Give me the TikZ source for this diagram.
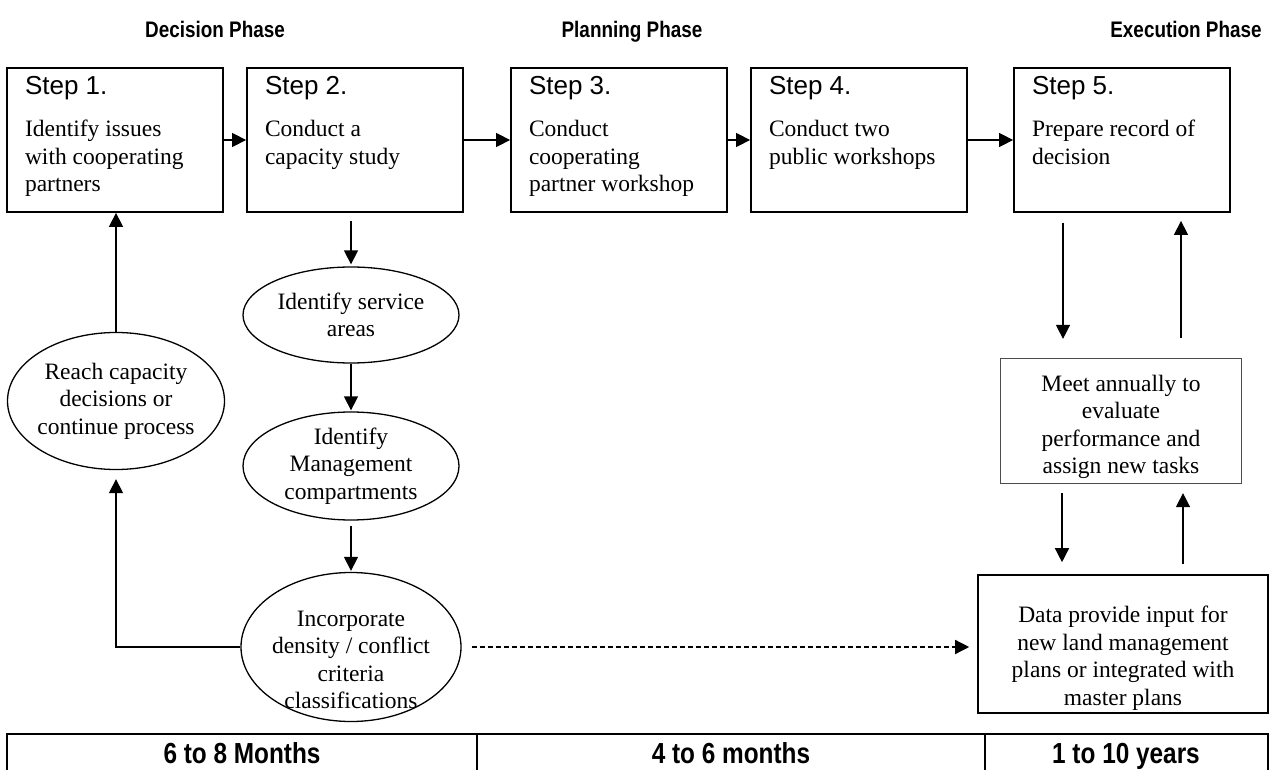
\documentclass[tikz,border=0pt]{standalone}
\usepackage{fontspec}
\setmainfont{Liberation Serif}
\newfontfamily\stepfont{Liberation Sans}
\newfontfamily\narrowfont[FakeStretch=0.84]{Liberation Sans}
\usetikzlibrary{positioning, shapes.geometric, arrows.meta}

\newcommand{\bodysize}{\fontsize{23.5}{27.5}\selectfont}
\newcommand{\stepbody}[2]{\parbox[c][128pt][t]{180pt}{\raggedright
  {\stepfont\fontsize{26}{30}\selectfont Step #1.\par}\vspace{15pt}
  \bodysize #2}}

\begin{document}
\begin{tikzpicture}[x=1pt, y=-1pt,
    stepbox/.style = {draw, line width=1.8pt, minimum width=216pt, minimum height=144pt, inner sep=8pt},
    oval/.style = {draw, ellipse, line width=1.3pt, inner sep=0pt},
    ovaltext/.style = {align=center, inner sep=0pt, font=\bodysize},
    notebox/.style = {draw, line width=1.6pt, inner sep=0pt},
    phase/.style = {anchor=base, inner sep=0pt, font=\narrowfont\bfseries\fontsize{22.5}{26}\selectfont},
    span/.style = {anchor=base, inner sep=0pt, font=\narrowfont\bfseries\fontsize{29}{32}\selectfont},
    arr/.style = {line width=1.4pt, -{Triangle[length=14pt, width=14pt]}}
  ]
  \useasboundingbox (0,0) rectangle (1272,770);
  % phase titles
  \node[phase] (decision) at (215,38) {Decision Phase};
  \node[phase] (planning) at (632,38) {Planning Phase};
  \node[phase] (execution) at (1186,38) {Execution Phase};
  % the five steps
  \node[stepbox] (s1) at (115,140) {\stepbody{1}{Identify issues\\with cooperating\\partners}};
  \node[stepbox] (s2) at (355,140) {\stepbody{2}{Conduct a\\capacity study}};
  \node[stepbox] (s3) at (619,140) {\stepbody{3}{Conduct\\cooperating\\partner workshop}};
  \node[stepbox] (s4) at (859,140) {\stepbody{4}{Conduct two\\public workshops}};
  \node[stepbox] (s5) at (1122,140) {\stepbody{5}{Prepare record of\\decision}};
  \foreach \a/\b in {s1/s2, s2/s3, s3/s4, s4/s5}
    { \draw[arr] (\a) -- (\b); }
  % decision phase loop
  \node[oval, minimum width=216pt, minimum height=96pt] (svc) at (351,315) {};
  \node[ovaltext] (svct) at (svc) {Identify service\\areas};
  \node[oval, minimum width=216pt, minimum height=108pt] (mgmt) at (351,466) {};
  \node[ovaltext] (mgmtt) at (mgmt) {Identify\\Management\\compartments};
  \node[oval, minimum width=220pt, minimum height=149pt] (inc) at (351,647) {};
  \node[ovaltext, yshift=-13pt] (inct) at (inc) {Incorporate\\density / conflict\\criteria\\classifications};
  \node[oval, minimum width=217pt, minimum height=137pt] (reach) at (116,401) {};
  \node[ovaltext] (reacht) at (reach) {Reach capacity\\decisions or\\continue process};
  \draw[arr, shorten <=8pt, shorten >=2pt] (svc.north |- s2.south) -- (svc.north);
  \draw[arr, shorten >=1pt] (svc) -- (mgmt);
  \draw[arr, shorten <=5pt, shorten >=1pt] (mgmt) -- (inc);
  \draw[arr, shorten >=9pt] (inc.west) -| (reach.south);
  \draw[arr] (reach.north) -- (reach.north |- s1.south);
  % execution phase
  \node[notebox, draw=black!70, line width=1.2pt, minimum width=241pt, minimum height=125pt] (meet) at (1121,421) {};
  \node[ovaltext, yshift=-6pt] (meett) at (meet) {Meet annually to\\evaluate\\performance and\\assign new tasks};
  \node[notebox, minimum width=290pt, minimum height=138pt] (data) at (1123,644) {};
  \node[ovaltext, yshift=-14pt] (datat) at (data) {Data provide input for\\new land management\\plans or integrated with\\master plans};
  \draw[arr, shorten <=10pt, shorten >=19pt] ([xshift=-59pt]s5.south) -- ([xshift=-59pt]s5.south |- meet.north);
  \draw[arr, shorten <=20pt, shorten >=8pt] ([xshift=60pt]meet.north) -- ([xshift=60pt]meet.north |- s5.south);
  \draw[arr, shorten <=9pt, shorten >=12pt] ([xshift=-59pt]meet.south) -- ([xshift=-59pt]meet.south |- data.north);
  \draw[arr, shorten <=10pt, shorten >=9pt] ([xshift=60pt]data.north) -- ([xshift=60pt]data.north |- meet.south);
  \draw[arr, dash pattern=on 5pt off 3pt, shorten <=10pt, shorten >=8pt] (inc.east) -- (inc.east -| data.west);
  % time line
  \draw[line width=2.6pt] (7,775) -- (7,734) -- (1268,734) -- (1268,775);
  \draw[line width=2pt] (477,734) -- (477,775) (985,734) -- (985,775);
  \node[span] (t1) at (242,763) {6 to 8 Months};
  \node[span] (t2) at (731,763) {4 to 6 months};
  \node[span] (t3) at (1126,763) {1 to 10 years};
\end{tikzpicture}
\end{document}
